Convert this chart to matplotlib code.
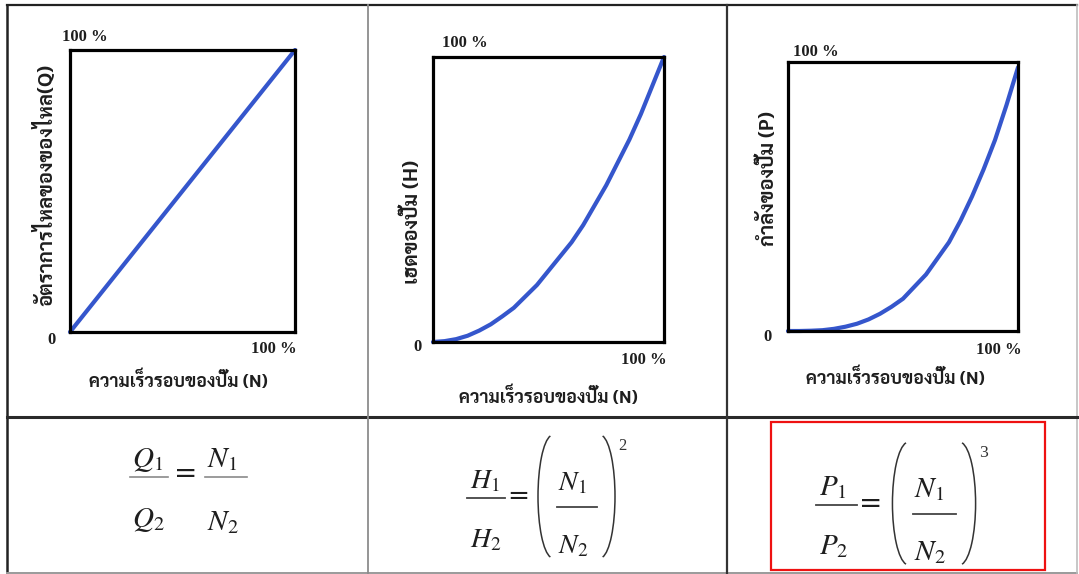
import matplotlib
matplotlib.use("Agg")
import matplotlib.pyplot as plt
from matplotlib import font_manager
from matplotlib.patches import Arc, Rectangle

# ---- data: pump affinity laws, values as fractions of rated speed ----
speed = [0.00, 0.05, 0.10, 0.15, 0.20, 0.25, 0.30, 0.35, 0.40, 0.45, 0.50,
         0.55, 0.60, 0.65, 0.70, 0.75, 0.80, 0.85, 0.90, 0.95, 1.00]
flow = [0.00, 0.05, 0.10, 0.15, 0.20, 0.25, 0.30, 0.35, 0.40, 0.45, 0.50,
        0.55, 0.60, 0.65, 0.70, 0.75, 0.80, 0.85, 0.90, 0.95, 1.00]
head = [0.000, 0.003, 0.010, 0.022, 0.040, 0.062, 0.090, 0.120, 0.160, 0.200, 0.250,
        0.300, 0.350, 0.410, 0.480, 0.550, 0.630, 0.710, 0.800, 0.900, 1.000]
power = [0.000, 0.000, 0.001, 0.003, 0.008, 0.016, 0.027, 0.043, 0.064, 0.090, 0.120,
         0.165, 0.210, 0.270, 0.330, 0.410, 0.500, 0.600, 0.710, 0.840, 0.980]

x_label = "ความเร็วรอบของปั๊ม (N)"
y_labels = ["อัตราการไหลของของไหล(Q)", "เฮดของปั๊ม (H)", "กำลังของปั๊ม (P)"]
tick_max = "100 %"
tick_zero = "0"

W, H = 1079, 574

# pick an installed Thai-capable family
names = {f.name for f in font_manager.fontManager.ttflist}
thai = "DejaVu Sans"
for cand in ["Sarabun", "Noto Sans Thai", "Noto Serif Thai", "Taviraj", "Athiti"]:
    if cand in names:
        thai = cand
        break
THAI = [thai, "DejaVu Sans"]
SERIF = "Liberation Serif"
INK = "#1e1e1e"

plt.rcParams["mathtext.fontset"] = "stix"

fig = plt.figure(figsize=(W / 100, H / 100), dpi=100)
fig.patch.set_facecolor("white")

# overlay in pixel coordinates for the table grid and formulas
ov = fig.add_axes([0, 0, 1, 1])
ov.set_xlim(0, W)
ov.set_ylim(H, 0)
ov.axis("off")


def px_axes(x0, y0, x1, y1):
    return fig.add_axes([x0 / W, 1 - y1 / H, (x1 - x0) / W, (y1 - y0) / H])


# ---- table grid ----
ov.plot([7, 1077], [5, 5], color="#222222", lw=1.6)
ov.plot([7, 7], [5, 573], color="#222222", lw=1.8)
ov.plot([7, 1077], [573, 573], color="#9a9a9a", lw=1.4)
ov.plot([1077, 1077], [5, 573], color="#bdbdbd", lw=1.2)
ov.plot([7, 1077], [417, 417], color="#2a2a2a", lw=2.2)
ov.plot([368, 368], [5, 573], color="#8c8c8c", lw=1.3)
ov.plot([727, 727], [5, 573], color="#333333", lw=1.6)
ov.add_patch(Rectangle((771, 422), 274, 148, fill=False, edgecolor="#ee1111", lw=1.6))

# ---- the three characteristic plots ----
panels = [
    dict(box=(70, 50, 295, 332), y=flow, ylab=y_labels[0],
         top=(62, 37), zero=(52, 340), right=(297, 349), xl=(178, 381), yl=(45, 185)),
    dict(box=(433, 57, 664, 342), y=head, ylab=y_labels[1],
         top=(442, 43), zero=(418, 347), right=(667, 360), xl=(548, 397), yl=(412, 222)),
    dict(box=(788, 62, 1018, 331), y=power, ylab=y_labels[2],
         top=(793, 52), zero=(768, 337), right=(1022, 350), xl=(895, 378), yl=(768, 178)),
]

for p in panels:
    x0, y0, x1, y1 = p["box"]
    ax = px_axes(x0, y0, x1, y1)
    ax.plot(speed, p["y"], color="#3556cc", lw=3.0, solid_capstyle="round",
            solid_joinstyle="round", clip_on=False)
    ax.set_xlim(0, 1)
    ax.set_ylim(0, 1)
    ax.set_xticks([])
    ax.set_yticks([])
    for s in ax.spines.values():
        s.set_linewidth(2.3)
        s.set_color("black")
    w, h = x1 - x0, y1 - y0
    ax.set_xlabel(x_label, family=THAI, fontsize=12.8, fontweight="bold", color=INK)
    ax.xaxis.set_label_coords((p["xl"][0] - x0) / w, (y1 - p["xl"][1]) / h)
    ax.xaxis.label.set_va("center")
    ax.set_ylabel(p["ylab"], family=THAI, fontsize=14.5, fontweight="bold", color=INK)
    ax.yaxis.set_label_coords((p["yl"][0] - x0) / w, (y1 - p["yl"][1]) / h)
    ax.yaxis.label.set_va("center")

    ov.text(*p["top"], tick_max, family=SERIF, fontweight="bold", fontsize=12,
            ha="left", va="center", color=INK)
    ov.text(*p["zero"], tick_zero, family=SERIF, fontweight="bold", fontsize=12,
            ha="center", va="center", color=INK)
    ov.text(*p["right"], tick_max, family=SERIF, fontweight="bold", fontsize=12,
            ha="right", va="center", color=INK)

# ---- formulas ----
# Q1/Q2 = N1/N2
fs1 = 21
ov.text(132, 467, r"$Q_1$", fontsize=fs1, ha="left", va="baseline", color=INK)
ov.text(132, 527, r"$Q_2$", fontsize=fs1, ha="left", va="baseline", color=INK)
ov.text(207, 467, r"$N_1$", fontsize=fs1, ha="left", va="baseline", color=INK)
ov.text(207, 530, r"$N_2$", fontsize=fs1, ha="left", va="baseline", color=INK)
ov.plot([130, 168], [477, 477], color="#8a8a8a", lw=1.2)
ov.plot([205, 247], [477, 477], color="#8a8a8a", lw=1.2)
ov.text(186, 474, "=", family="DejaVu Sans", fontsize=20, ha="center", va="center",
        color=INK)


def power_law(x0, y0, kx, ky, sym, exp_txt, fs):
    def X(dx):
        return x0 + dx * kx

    def Y(dy):
        return y0 + dy * ky

    ov.text(X(0), Y(0), rf"${sym}_1$", fontsize=fs, ha="left", va="baseline", color=INK)
    ov.text(X(0), Y(59), rf"${sym}_2$", fontsize=fs, ha="left", va="baseline", color=INK)
    ov.plot([X(-3), X(35)], [Y(10), Y(10)], color="#444444", lw=1.3)
    ov.text(X(48), Y(9), "=", family="DejaVu Sans", fontsize=fs * 0.95,
            ha="center", va="center", color=INK)
    # tall round brackets drawn as thin elliptical arcs
    ov.add_patch(Arc((X(83), Y(8.5)), 30 * kx, 123 * ky, theta1=92.5, theta2=267.5,
                     color="#333333", lw=1.1))
    ov.add_patch(Arc((X(130), Y(8.5)), 30 * kx, 123 * ky, theta1=-87.5, theta2=87.5,
                     color="#333333", lw=1.1))
    ov.text(X(88), Y(2), r"$N_1$", fontsize=fs, ha="left", va="baseline", color=INK)
    ov.text(X(88), Y(65), r"$N_2$", fontsize=fs, ha="left", va="baseline", color=INK)
    ov.plot([X(87), X(127)], [Y(19), Y(19)], color="#444444", lw=1.3)
    ov.text(X(148), Y(-38), exp_txt, family=SERIF, fontsize=fs * 0.6,
            ha="left", va="baseline", color="#333333")


power_law(470, 488, 1.0, 1.0, "H", "2", 20)
power_law(819, 495, 1.08, 1.0, "P", "3", 21)

fig.savefig("out.png", dpi=100, facecolor="white")
